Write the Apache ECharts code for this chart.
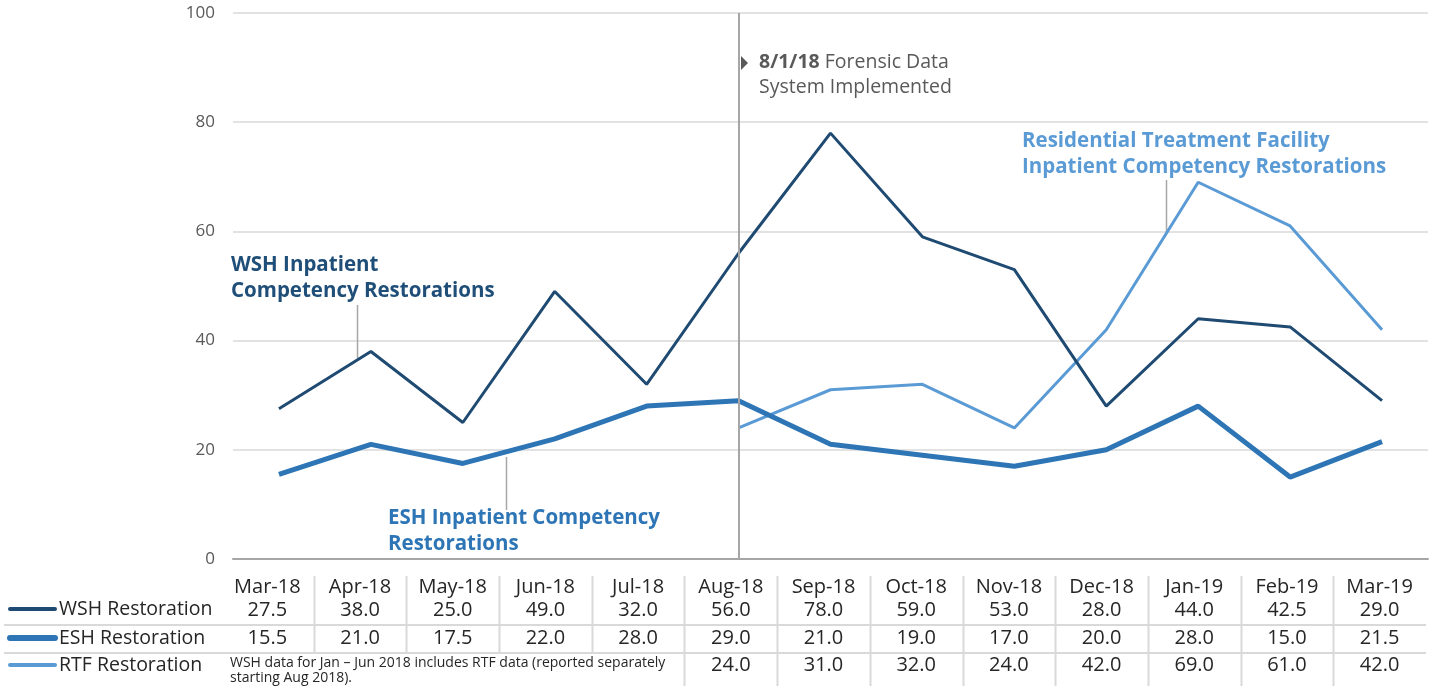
<!DOCTYPE html>
<html>
<head>
<meta charset="utf-8">
<script src="https://cdn.jsdelivr.net/npm/echarts@6/dist/echarts.min.js"></script>
<style>
  html, body { margin: 0; padding: 0; background: #fff; }
  #main { width: 1434px; height: 686px; }
</style>
</head>
<body>
<div id="main"></div>
<script>
var chart = echarts.init(document.getElementById('main'));

// months on the category axis / table header
const months = ['Mar-18', 'Apr-18', 'May-18', 'Jun-18', 'Jul-18', 'Aug-18', 'Sep-18',
                'Oct-18', 'Nov-18', 'Dec-18', 'Jan-19', 'Feb-19', 'Mar-19'];
// restorations per month
const wsh = [27.5, 38, 25, 49, 32, 56, 78, 59, 53, 28, 44, 42.5, 29];
const esh = [15.5, 21, 17.5, 22, 28, 29, 21, 19, 17, 20, 28, 15, 21.5];
const rtf = [null, null, null, null, null, 24, 31, 32, 24, 42, 69, 61, 42];

const seriesNames = ['WSH Restoration', 'ESH Restoration', 'RTF Restoration'];
const colors = ['#1F4A72', '#2E75B6', '#5B9BD5'];
const widths = [3, 5, 3];

const FONT = '"Open Sans", sans-serif';
const fmt = v => (v == null ? '' : v.toFixed(1));

// one hidden axis per table row, all in the table grid
function tableAxis(values, margin) {
    return {
        type: 'category',
        gridIndex: 1,
        data: months,
        position: 'bottom',
        axisLine: { show: false },
        axisTick: { show: false },
        axisLabel: {
            interval: 0,
            margin: margin,
            verticalAlign: 'middle',
            fontFamily: FONT,
            fontSize: 20,
            color: '#262626',
            formatter: (v, i) => values[i]
        }
    };
}

var option = {
    animation: false,
    textStyle: { fontFamily: FONT },
    grid: [
        { left: 233, right: 6, top: 13, bottom: 127 },
        { left: 221, right: 8, top: 570, height: 2 }
    ],
    xAxis: [
        {
            type: 'category',
            data: months,
            boundaryGap: true,
            axisLine: { lineStyle: { color: '#A6A6A6', width: 2 } },
            axisTick: { show: false },
            axisLabel: { show: false }
        },
        tableAxis(months, 15),
        tableAxis(wsh.map(fmt), 38),
        tableAxis(esh.map(fmt), 66),
        tableAxis(rtf.map(fmt), 93)
    ],
    yAxis: [
        {
            type: 'value',
            min: 0,
            max: 100,
            interval: 20,
            axisLine: { show: false },
            axisTick: { show: false },
            axisLabel: { color: '#595959', fontSize: 17, margin: 18, fontFamily: FONT },
            splitLine: { lineStyle: { color: '#D9D9D9', width: 1.5 } }
        },
        { type: 'value', gridIndex: 1, show: false }
    ],
    series: [
        {
            name: seriesNames[0], type: 'line', data: wsh, symbol: 'none',
            lineStyle: { color: colors[0], width: widths[0] }, z: 3,
            markLine: {
                silent: true,
                symbol: 'none',
                label: { show: false },
                lineStyle: { color: '#A6A6A6', width: 2, type: 'solid' },
                data: [{ xAxis: 'Aug-18' }]
            }
        },
        {
            name: seriesNames[1], type: 'line', data: esh, symbol: 'none',
            lineStyle: { color: colors[1], width: widths[1] }, z: 2
        },
        {
            name: seriesNames[2], type: 'line', data: rtf, symbol: 'none',
            lineStyle: { color: colors[2], width: widths[2] }, z: 1
        }
    ]
};

chart.setOption(option);

// table grid lines, legend keys and annotations
var g = [];
const xs = months.map(m => chart.convertToPixel({ xAxisIndex: 1 }, m));
for (let i = 0; i < months.length - 1; i++) {
    const bx = Math.round((xs[i] + xs[i + 1]) / 2) + 0.5;
    g.push({
        type: 'line', silent: true,
        shape: { x1: bx, y1: 576, x2: bx, y2: i < 4 ? 652 : 686 },
        style: { stroke: '#D9D9D9', lineWidth: 2 }
    });
}
[625, 653].forEach(y => g.push({
    type: 'line', silent: true,
    shape: { x1: 4, y1: y, x2: 1426, y2: y },
    style: { stroke: '#D9D9D9', lineWidth: 2 }
}));
[609, 638, 665].forEach((y, k) => {
    g.push({
        type: 'line', silent: true,
        shape: { x1: 10, y1: y, x2: 55, y2: y },
        style: { stroke: colors[k], lineWidth: widths[k] + 1, lineCap: 'round' }
    });
    g.push({
        type: 'text', silent: true, x: 59, y: y,
        style: { text: seriesNames[k], fontFamily: FONT, fontSize: 19.5, fill: '#262626', verticalAlign: 'middle' }
    });
});
g.push({
    type: 'text', silent: true, x: 230, y: 656,
    style: {
        text: 'WSH data for Jan \u2013 Jun 2018 includes RTF data (reported separately\nstarting Aug 2018).',
        fontFamily: FONT, fontSize: 14, lineHeight: 15, fill: '#262626'
    }
});

// series call-outs
function callout(text, color, x, y, lx, ly1, ly2) {
    g.push({
        type: 'line', silent: true,
        shape: { x1: lx, y1: ly1, x2: lx, y2: ly2 },
        style: { stroke: '#A6A6A6', lineWidth: 1.5 }
    });
    g.push({
        type: 'text', silent: true, x: x, y: y,
        style: { text: text, fontFamily: FONT, fontSize: 20.5, fontWeight: 'bold', lineHeight: 26, fill: color }
    });
}
callout('WSH Inpatient\nCompetency Restorations', '#1F4E79', 231, 252, 357.5, 305, 358);
callout('ESH Inpatient Competency\nRestorations', '#2E75B6', 388, 505, 506.5, 457, 510);
callout('Residential Treatment Facility\nInpatient Competency Restorations', '#5B9BD5', 1022, 128, 1166.5, 180, 234);

// event note at the Aug-18 line
g.push({
    type: 'polygon', silent: true,
    shape: { points: [[741, 56], [748, 63], [741, 70]] },
    style: { fill: '#595959' }
});
g.push({
    type: 'text', silent: true, x: 759, y: 50,
    style: {
        text: '{b|8/1/18} Forensic Data\nSystem Implemented',
        fontFamily: FONT, fontSize: 19.5, lineHeight: 25, fill: '#595959',
        rich: { b: { fontWeight: 'bold', fontSize: 19.5, fontFamily: FONT, fill: '#595959' } }
    }
});

chart.setOption({ graphic: g });
</script>
</body>
</html>
